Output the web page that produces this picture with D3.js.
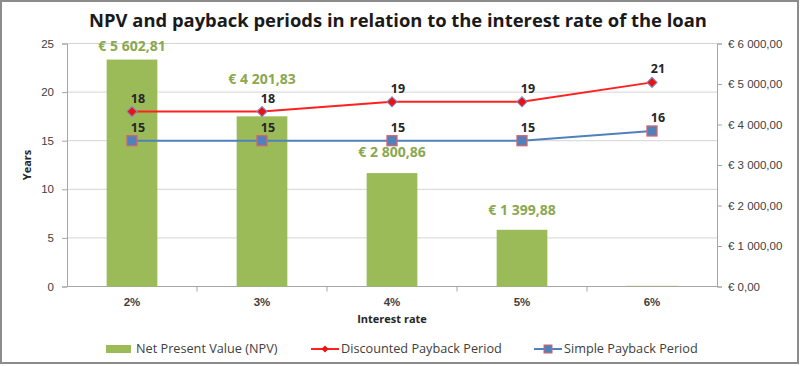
<!DOCTYPE html>
<html>
<head>
<meta charset="utf-8">
<script src="https://cdn.jsdelivr.net/npm/d3@7"></script>
<style>
  html, body { margin: 0; padding: 0; background: #fff; }
  svg { display: block; font-family: "Open Sans", "Noto Sans", sans-serif; }
</style>
</head>
<body>
<div id="chart"></div>
<script>
// Data
const rates = ['2%', '3%', '4%', '5%', '6%'];
const npv = [5602.81, 4201.83, 2800.86, 1399.88, 0.5];
const discountedPayback = [18, 18, 19, 19, 21];
const simplePayback = [15, 15, 15, 15, 16];
const yearTicks = [0, 5, 10, 15, 20, 25];
const euroTicks = [0, 1000, 2000, 3000, 4000, 5000, 6000];

// label nudges (px above bar top) for NPV labels, they were hand placed in the original
const NPV_LABEL_LIFT = [13, 37, 21, 20, 20];

const W = 800, H = 366;
const MARGIN = { top: 43.5, right: 83, bottom: 79.5, left: 67 };

const euroFmt = d3.formatLocale({
  decimal: ',', thousands: ' ', grouping: [3], currency: ['€ ', '']
}).format('$,.2f');

const svg = d3.select('#chart').append('svg')
  .attr('width', W)
  .attr('height', H);

// outer frame
svg.append('rect')
  .attr('x', 1).attr('y', 1)
  .attr('width', W - 3).attr('height', H - 4)
  .attr('fill', '#fff')
  .attr('stroke', '#8c8c8c')
  .attr('stroke-width', 2);

const x = d3.scaleBand()
  .domain(rates)
  .range([MARGIN.left, W - MARGIN.right]);

const yYears = d3.scaleLinear()
  .domain([0, 25])
  .range([H - MARGIN.bottom, MARGIN.top]);

const yEuro = d3.scaleLinear()
  .domain([0, 6000])
  .range([H - MARGIN.bottom, MARGIN.top]);

// gridlines
svg.append('g')
  .selectAll('line')
  .data(yearTicks.filter(d => d > 0))
  .enter()
  .append('line')
  .attr('x1', MARGIN.left)
  .attr('x2', W - MARGIN.right)
  .attr('y1', d => yYears(d))
  .attr('y2', d => yYears(d))
  .attr('stroke', '#d4d4d4')
  .attr('stroke-width', 1);

// left axis
const leftAxis = svg.append('g')
  .attr('transform', `translate(${MARGIN.left},0)`)
  .call(d3.axisLeft(yYears).tickValues(yearTicks).tickSize(5).tickPadding(8));

// right axis
const rightAxis = svg.append('g')
  .attr('transform', `translate(${W - MARGIN.right},0)`)
  .call(d3.axisRight(yEuro).tickValues(euroTicks).tickSize(5).tickPadding(6).tickFormat(euroFmt));

// bottom axis
const bottomAxis = svg.append('g')
  .attr('transform', `translate(0,${H - MARGIN.bottom})`)
  .call(d3.axisBottom(x).tickSize(0).tickPadding(11));

// category boundary ticks on the x axis
svg.append('g')
  .selectAll('line')
  .data(rates.slice(1))
  .enter()
  .append('line')
  .attr('x1', d => x(d))
  .attr('x2', d => x(d))
  .attr('y1', H - MARGIN.bottom)
  .attr('y2', H - MARGIN.bottom + 5)
  .attr('stroke', '#a6a6a6');

[leftAxis, rightAxis, bottomAxis].forEach(a => {
  a.selectAll('.domain').attr('stroke', '#a6a6a6');
  a.selectAll('.tick line').attr('stroke', '#a6a6a6');
  a.selectAll('text').attr('fill', '#404040').attr('font-size', 11.5);
});
bottomAxis.selectAll('text').attr('font-weight', 'bold').attr('font-size', 11.5);
bottomAxis.select('.domain').attr('d', `M${MARGIN.left},0H${W - MARGIN.right}`);

// NPV bars
const barW = x.bandwidth() * 0.39;
svg.append('g')
  .selectAll('rect')
  .data(npv)
  .enter()
  .append('rect')
  .attr('x', (d, i) => x(rates[i]) + (x.bandwidth() - barW) / 2)
  .attr('y', d => Math.min(yEuro(d), yEuro(0) - 1))
  .attr('width', barW)
  .attr('height', d => Math.max(1, yEuro(0) - yEuro(d)))
  .attr('fill', '#9bbb59')
  .attr('fill-opacity', (d) => (yEuro(0) - yEuro(d) < 1 ? 0.35 : 1));

// NPV labels (last one is ~0 and not labelled)
svg.append('g')
  .selectAll('text')
  .data(npv.slice(0, 4))
  .enter()
  .append('text')
  .attr('x', (d, i) => x(rates[i]) + x.bandwidth() / 2)
  .attr('y', (d, i) => yEuro(d) - NPV_LABEL_LIFT[i])
  .attr('dy', '0.35em')
  .attr('text-anchor', 'middle')
  .attr('font-size', 14)
  .attr('font-weight', 'bold')
  .attr('fill', '#8aa84e')
  .text(d => euroFmt(d));

const cx = (i) => x(rates[i]) + x.bandwidth() / 2;

function drawSeries(values, color, markerFn) {
  const line = d3.line()
    .x((d, i) => cx(i))
    .y(d => yYears(d));
  svg.append('path')
    .datum(values)
    .attr('fill', 'none')
    .attr('stroke', color)
    .attr('stroke-width', 2)
    .attr('d', line);
  const g = svg.append('g');
  values.forEach((v, i) => markerFn(g, cx(i), yYears(v)));
  svg.append('g')
    .selectAll('text')
    .data(values)
    .enter()
    .append('text')
    .attr('x', (d, i) => cx(i) + 6)
    .attr('y', d => yYears(d) - 9)
    .attr('text-anchor', 'middle')
    .attr('font-size', 12.5)
    .attr('font-weight', 'bold')
    .attr('fill', '#262626')
    .text(d => d);
}

function diamond(g, px, py) {
  g.append('rect')
    .attr('x', -3.6).attr('y', -3.6)
    .attr('width', 7.2).attr('height', 7.2)
    .attr('transform', `translate(${px},${py}) rotate(45)`)
    .attr('fill', '#ee1111')
    .attr('stroke', '#7b8fd0')
    .attr('stroke-width', 1);
}

function square(g, px, py) {
  g.append('rect')
    .attr('x', px - 5).attr('y', py - 5)
    .attr('width', 10).attr('height', 10)
    .attr('fill', '#4f81bd')
    .attr('stroke', '#d9636b')
    .attr('stroke-width', 1.3);
}

drawSeries(discountedPayback, '#ff2020', diamond);
drawSeries(simplePayback, '#4f81bd', square);

// Title
svg.append('text')
  .attr('x', 398)
  .attr('y', 27)
  .attr('text-anchor', 'middle')
  .attr('font-size', 18.4)
  .attr('font-weight', 'bold')
  .attr('fill', '#1a1a1a')
  .text('NPV and payback periods in relation to the interest rate of the loan');

// Axis titles
svg.append('text')
  .attr('transform', `translate(31,${yYears(12.5)}) rotate(-90)`)
  .attr('text-anchor', 'middle')
  .attr('font-size', 11)
  .attr('font-weight', 'bold')
  .attr('fill', '#262626')
  .text('Years');

svg.append('text')
  .attr('x', (MARGIN.left + W - MARGIN.right) / 2)
  .attr('y', 323)
  .attr('text-anchor', 'middle')
  .attr('font-size', 11)
  .attr('font-weight', 'bold')
  .attr('fill', '#262626')
  .text('Interest rate');

// Legend
const legendY = 349;
const legend = svg.append('g').attr('font-size', 12.7).attr('fill', '#404040');

legend.append('rect')
  .attr('x', 106).attr('y', legendY - 4)
  .attr('width', 25).attr('height', 8)
  .attr('fill', '#9bbb59');
legend.append('text').attr('x', 136).attr('y', legendY).attr('dy', '0.35em')
  .attr('fill', '#404040').text('Net Present Value (NPV)');

legend.append('line')
  .attr('x1', 311).attr('x2', 339).attr('y1', legendY).attr('y2', legendY)
  .attr('stroke', '#ff2020').attr('stroke-width', 2);
legend.append('rect')
  .attr('x', -2.5).attr('y', -2.5).attr('width', 5).attr('height', 5)
  .attr('transform', `translate(325,${legendY}) rotate(45)`)
  .attr('fill', '#ee1111');
legend.append('text').attr('x', 341).attr('y', legendY).attr('dy', '0.35em')
  .attr('fill', '#404040').text('Discounted Payback Period');

legend.append('line')
  .attr('x1', 534).attr('x2', 562).attr('y1', legendY).attr('y2', legendY)
  .attr('stroke', '#4f81bd').attr('stroke-width', 2);
legend.append('rect')
  .attr('x', 544).attr('y', legendY - 4).attr('width', 8).attr('height', 8)
  .attr('fill', '#4f81bd').attr('stroke', '#d9636b');
legend.append('text').attr('x', 564).attr('y', legendY).attr('dy', '0.35em')
  .attr('fill', '#404040').text('Simple Payback Period');
</script>
</body>
</html>
